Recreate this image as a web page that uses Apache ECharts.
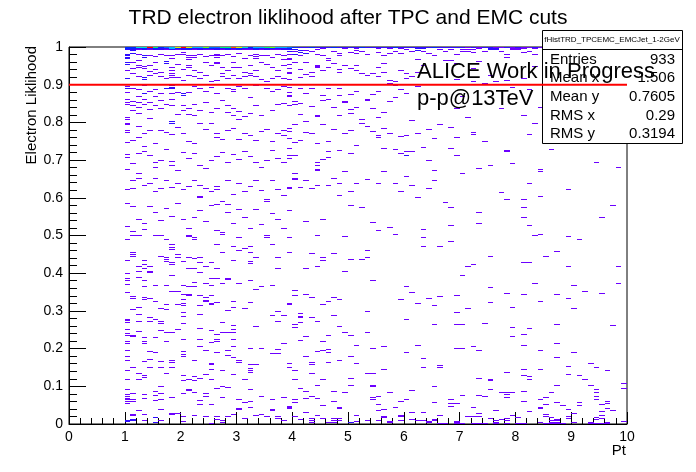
<!DOCTYPE html>
<html>
<head>
<meta charset="utf-8">
<title>TRD electron liklihood after TPC and EMC cuts</title>
<script src="https://cdn.jsdelivr.net/npm/echarts@6.0.0/dist/echarts.min.js"></script>
<style>
  html, body { margin: 0; padding: 0; background: #fff; }
  #chart { width: 696px; height: 472px; }
</style>
</head>
<body>
<div id="chart"></div>
<script>
// binning of the 2D histogram: 0.1 in Pt, 0.0025 in likelihood
var xBin = 0.1;
var yBin = 0.0025;
var xTicks = [0, 10, 1];
var yTicks = [0, 1, 0.1];
var cutValue = 0.9;

// counts of the top likelihood bin (iy 399), starting at ix 10
var topRow = [3,3,6,6,12,7,3,4,5,9,12,9,5,5,8,4,4,7,7,11,9,6,3,5,5,7,8,5,5,4,
  3,2,2,3,2,2,2,3,2,2,2,2,3,2,2,2,2,2,3,2,2,2,2,2,2,3,2,2,2,2,
  2,1,2,1,2,2,1,1,2,1,2,1,1,2,1];
// iy 398 and iy 397, starting at ix 10
var secondRow = [3,3,2,3,2,3,2,2,5,3,2,3,2,2,3,3,2,2,3,2,3,2,2,3,2,2,3,2,2,3];
var thirdRow = [2,2,1,2,1,2,2,1,2,1,2,2,1,2,1,1,2,1,2,1,2,1,1,2,1,2,1,1,2,1];

// [ix, iy, count] (count 1 when missing), Pt 1-4, likelihood 0.5-1
var upperLeft = [
  [10,392,2],[10,391,2],[10,388,2],[10,387,2],[10,383,2],[10,381,2],[10,375],[10,366,2],[10,358],[10,356,2],[10,351],[10,344],[10,341],[10,338],[10,325],[10,323],[10,318],[10,317],[10,311],[10,309],[10,298],[10,285],[10,282],[10,270],[10,248],[10,233],[10,209],
  [11,396,2],[11,393,2],[11,383],[11,377],[11,371],[11,356],[11,342],[11,337],[11,332],[11,300],[11,276],[11,258],[11,249],[11,230],[11,204],
  [12,392],[12,385],[12,380],[12,378],[12,368],[12,354],[12,347],[12,341],[12,335],[12,329],[12,315],[12,303],[12,287],[12,265],[12,260],[12,217],[12,200],
  [13,390,2],[13,388,2],[13,379],[13,377],[13,367,2],[13,365,2],[13,359],[13,350,2],[13,344],[13,339],[13,308],[13,294],[13,289],[13,253],[13,212],[13,206],
  [14,390],[14,380],[14,374],[14,369],[14,352],[14,341],[14,333],[14,324],[14,311],[14,284],[14,255],[14,230],
  [15,389],[15,383],[15,376],[15,371],[15,354],[15,347],[15,337],[15,297],[15,277],[15,272],[15,260],[15,246],[15,224],
  [16,392],[16,373],[16,368],[16,350],[16,343],[16,334],[16,311],[16,279],[16,249],[16,215],
  [17,390],[17,384,2],[17,382,2],[17,366],[17,356,2],[17,339],[17,309],[17,291],[17,258],[17,228],
  [18,391],[18,387],[18,378],[18,375],[18,371],[18,369],[18,367],[18,359,2],[18,357,2],[18,356,2],[18,350],[18,344],[18,337],[18,320,2],[18,318,2],[18,307],[18,278],[18,274],[18,250],[18,220],
  [19,392],[19,381],[19,367],[19,351],[19,328],[19,314],[19,269],[19,255],[19,234],
  [20,394],[20,392],[20,376],[20,364],[20,350,2],[20,348,2],[20,337],[20,332],[20,308],[20,288],[20,248],[20,216],
  [21,390],[21,388],[21,386],[21,380],[21,378],[21,369],[21,351],[21,334],[21,328],[21,299],[21,281],[21,251],[21,207],
  [22,391],[22,388],[22,375],[22,368],[22,358],[22,339],[22,327],[22,297],[22,287],[22,258],[22,219],
  [23,392],[23,373],[23,366],[23,356],[23,332],[23,318],[23,274],[23,253],[23,241],[23,240],[23,226],
  [24,389],[24,383],[24,369],[24,352],[24,341],[24,312],[24,271],[24,249],[24,214],
  [25,391],[25,380],[25,363],[25,357],[25,330],[25,318],[25,279],[25,246],[25,231],
  [26,392],[26,390],[26,388],[26,383],[26,382],[26,364],[26,350],[26,334],[26,308],[26,304],[26,283],[26,252],[26,248],[26,232],[26,205],
  [27,390],[27,378],[27,371],[27,368],[27,343],[27,301],[27,288],[27,236],[27,203],
  [28,392],[28,375],[28,366],[28,356],[28,337],[28,330],[28,311],[28,277],[28,258],[28,232],[28,224],
  [29,389],[29,383],[29,378],[29,369],[29,354],[29,352],[29,334],[29,327],[29,313],[29,286],[29,243],[29,212],
  [30,393],[30,378],[30,366],[30,358],[30,331],[30,323],[30,301],[30,280],[30,255],[30,227],
  [31,387],[31,372],[31,368],[31,356],[31,326],[31,308],[31,289],[31,246],[31,219],
  [32,391],[32,380],[32,371],[32,369],[32,346],[32,329],[32,306],[32,283],[32,252],[32,207],
  [33,392],[33,389],[33,387],[33,375],[33,368],[33,359],[33,337],[33,300],[33,277],[33,258],[33,227],
  [34,390],[34,383],[34,365],[34,327],[34,310],[34,272],[34,247],[34,211],
  [35,391],[35,381],[35,363],[35,356],[35,312],[35,279],[35,238],[35,236],[35,200],
  [36,388],[36,378],[36,366],[36,352],[36,332],[36,299],[36,290],[36,258],[36,223],
  [37,392],[37,375],[37,368],[37,354],[37,339],[37,308],[37,281],[37,248],[37,217],
  [38,390],[38,386],[38,380],[38,366],[38,358],[38,340],[38,311],[38,306],[38,277],[38,242],[38,207],
  [39,392],[39,387],[39,377],[39,372],[39,371],[39,365],[39,351],[39,347],[39,337],[39,310],[39,302],[39,284],[39,250],[39,226]
];

// Pt 3.9-7, likelihood 0.5-1
var upperMid = [
  [39,397,2],[39,395,2],[40,397,2],[40,395],[40,392,2],[41,396,2],[41,394,2],[41,391],[42,396],[42,393,2],[43,395],[44,397],[44,392],[45,398],[45,391],[46,387],[47,395],[48,393],[48,390],[49,398],[50,394],[51,398],[51,396],[51,393],[52,395],[53,392],[55,398],[55,394],[56,390],[57,398],[57,393],[58,395],[59,398],[59,393],[60,397],[61,395],[62,398,2],[62,396,2],[63,398,2],[63,395],[64,393],[65,390],[66,397],[67,395],[68,397],[69,392],
  [39,386],[39,381],[39,377],[40,383],[41,376],[41,367],[42,383],[42,370],[43,373],[43,368],[44,380],[44,379],[44,378],[45,375],[46,385],[46,378],[47,382],[48,376],[48,373],[49,380],[50,377],[51,380],[51,375],[52,371],[53,369],[54,371],[55,378],[55,368],[56,382],[56,373],[57,364],[57,361],[57,360],[58,363],[59,375],[60,371],[60,366],[61,368],[62,386],[62,372],[63,380],[67,385],[68,385],
  [39,357],[39,348],[39,337],[40,342],[40,338],[41,356],[41,340],[41,328],[42,350],[43,355],[43,336],[44,327],[44,326],[45,348],[45,343],[46,355],[46,344],[47,335],[48,356],[48,348],[48,327],[49,342],[49,341],[50,349],[50,333],[50,329],[51,352],[51,335],[52,323],[53,344],[53,343],[54,349],[54,334],[55,352],[55,325],[56,330],[57,342],[58,359],[58,346],[59,354],[60,350],[61,322],[62,358],
  [39,313],[39,302],[39,292],[39,281],[40,317],[40,298],[40,284],[41,300],[42,320],[42,309],[43,308],[44,297],[44,277],[44,274],[44,270],[44,269],[45,317],[45,280],[46,299],[46,289],[46,282],[47,312],[48,290],[49,308],[50,311],[50,287],[51,295],[52,318],[53,315],[54,310],[55,306],[55,303],[56,313],[56,292],[57,308],[58,291],[59,305],[59,287],[60,306],[60,289],[60,284,2],[61,289],[62,308],[63,293],[64,312],[64,279],[65,302],[65,269],[66,317],[68,314],[68,292],[69,304],[69,284],
  [39,250],[39,249],[40,265],[40,260],[40,259],[41,250],[42,258],[42,214],[43,249],[44,253],[45,216],[46,253],[47,260],[48,255],[48,242],[49,267],[50,246],[50,231],[51,255],[52,229],[53,259],[54,213],[55,255],[55,205],[56,267],[57,208],[58,255],[58,201],[59,246],[60,262],[61,253],[62,240],[63,206],[64,249],[65,258],[67,235],[68,229],[68,210]
];

// Pt 7-10, likelihood 0.5-1
var upperRight = [
  [70,397],[71,397],[70,395],[71,395],[72,397],[72,394],[73,398],[74,395],[75,398,2],[76,398,2],[75,397,2],[76,397,2],[77,395],[78,392],[78,388],[79,398],[80,398],[79,397],[80,397],[81,398],[81,394],[82,395],[83,398],[83,392],
  [69,382],[69,365],[72,377],[72,363],[73,384],[74,361],[75,369],[76,363],[78,364],[79,357],[81,366],[82,354],[83,379],[83,318],[81,327],[82,307],[84,335],[71,325],[69,334],[70,347],[72,309],[72,307],[74,299],[77,334],[78,289],[79,276],[75,274],[73,271],[70,265],[84,270],[84,267],[86,291],[94,277],[98,272],[89,248],[82,255],[77,245],[78,238],[81,238],[81,229],[84,241],[73,224],[73,212],[81,219],[82,210],[97,231],[95,219],[84,201],[78,290]
];

// Pt 1-4, likelihood 0-0.5
var lowerLeft = [
  [11,200],[12,200],[15,200],[16,200],[21,200],[21,199],[22,197],[27,201],[30,197],[35,200],[35,197],[39,197],
  [10,195],[17,195],[18,190],[18,187],[18,185],[22,195],[26,190],[29,188],[31,186],[32,188],[30,184],[36,190],[27,182],[32,181],[39,182],
  [11,182],[11,179],[11,177],[10,173],[13,173],[13,169],[12,167],[14,167],[16,177],[17,176],[17,174],[17,172],[18,171],[18,169],[19,179],[19,176],[20,172],[21,176],[22,175],[23,176],[23,171],[25,171],[24,167],[29,173],[33,176],[32,172],[32,170],[37,176],[37,164],[26,164],[21,164],[22,165],
  [13,164],[14,161],[14,160],[12,161],[10,159],[12,155],[13,152],[10,154],[10,152],[10,148],[18,157],[23,160],[25,154],[26,154],[28,154],[28,153],[27,149],[30,149],[32,152],[33,142],[34,145],[36,146],[15,146],[17,147],[17,146],[13,145],[20,146],[21,145],[22,145],[22,150],[24,149],[25,147],
  [10,139],[11,135],[11,133],[13,134],[13,132],[14,133],[15,129],[18,140],[19,140],[21,137],[21,136],[20,137],[23,136],[24,134],[25,136],[24,131],[24,130],[23,125],[25,127],[25,126],[26,128],[20,132],[20,127],[20,125],[17,126],[16,122],[19,126],[29,129],[31,122],[32,128],[39,126],[11,121],[12,123],[12,116],[14,113],[17,121],[20,118],[20,114],[23,116],[28,120],[29,123],[36,115],[37,119],[38,115],
  [10,110],[10,109],[10,107],[12,108],[14,108],[15,110],[16,108],[16,106],[20,106],[27,107],[29,104],[33,103],[37,108],[10,100],[10,96],[12,98],[16,99],[17,97],[18,97],[19,100],[23,101],[25,99],[27,97],[28,97],[26,95],[29,100],[29,97],[10,93],[11,93],[11,92],[13,91],[17,87],[20,89],[23,89],[26,89],[26,87],[25,86],[10,87],[10,85],[13,87],[13,85],[15,91],[29,89],[38,85],[23,82],[28,77],[29,82],
  [10,77],[10,71],[10,67],[14,76],[15,75],[13,66],[14,68],[16,66],[18,67],[18,65],[20,76],[20,73],[20,71],[22,67],[24,77],[26,75],[25,64],[25,63],[28,72],[29,70],[30,67],[30,65],[32,80],[32,63],[34,80],[36,74],[37,74],[37,79],[39,64],[39,59],
  [11,60],[11,59],[10,56],[12,53],[13,51],[13,49],[14,60],[16,60],[17,53],[18,60],[20,51],[20,46],[21,47],[22,50],[22,46],[23,48],[24,52],[25,57],[25,47],[27,56],[29,52],[31,47],[32,58],[32,56],[32,54],[33,63],
  [10,47],[12,47],[21,36],[21,35],[10,36],[10,31],[10,29],[10,27],[10,25],[10,23],[10,21],[11,32],[11,26],[11,23],[13,31],[13,27],[15,34],[15,30],[15,24],[16,39],[16,32],[16,26],[18,28],[20,32],[22,33],[24,32],[24,29],[23,24],[23,20],[25,20],[26,37],[27,39],[27,28],[28,38],[30,16],[30,15],[30,26],[31,22],[32,36],[32,23],[32,17],[34,29],[36,25],[36,15],[36,14],[38,28],[39,18],[39,17],
  [11,10],[11,9],[10,3,2],[10,2,2],[11,4,2],[11,3,2],[12,14],[13,10],[13,3],[15,6,2],[15,1,2],[16,15],[16,3],[18,11],[18,10],[19,11],[20,7],[20,2],[22,9],[24,7],[25,0],[26,7],[26,4],[28,8],[28,7],[27,3],[27,1],[29,10],[31,5],[33,9],[34,10],[35,8],[37,7],[37,5],[38,3]
];

// Pt 3.9-7, likelihood 0-0.5
var lowerMid = [
  [39,197],[44,200],[49,198],[58,201],[63,197],[63,188],[66,188],[68,193],
  [39,182],[43,180],[45,176],[45,173],[47,180],[50,174],[52,174],[53,184],[53,176],[42,164],[44,167],[49,161],
  [54,152],[60,145],[61,139],[40,141],[40,136],[42,137],[43,134],[39,127],[45,126],[46,129],[47,134],[48,132],[59,132],[62,127],[64,133],[65,125],[66,135],[69,136],[53,119],[41,117],[41,114],[41,113],[69,118],[47,115],[40,105],[40,102],[41,107],[43,112],[44,108],[48,103],[60,110],[65,105],[69,105],[49,97],[50,93],[53,97],[41,88],[42,92],[46,93],[45,87],[51,83],[54,80],[56,82],[62,83],[69,80],[60,75],[63,69],[42,71],[44,76],[45,77],[46,79],[46,75],[46,65],[48,67],[50,71],[51,64],[39,64],[39,59],[40,56],[43,65],[43,63],[43,53],[63,59],[66,62],[66,59],[53,53],[54,53],[56,57],
  [40,47],[45,47],[50,48],[54,40],[54,39],[50,40],[44,40],[41,37],[42,34],[47,34],[49,33],[57,33],[61,35],[65,39],[42,27],[43,29],[44,27],[54,28],[54,25],[55,29],[60,26],[40,25],[40,22],[47,23],[45,19],[48,17],[48,16],[55,20],[55,14],[56,15],[58,17],[59,23],[65,22],[68,25],[68,21],[69,21],[68,18],[39,18],[39,16],
  [42,12],[44,9],[51,9],[56,7],[56,6],[59,9],[59,8],[61,12],[63,12],[66,9],[40,7],[41,4],[43,5],[43,3],[45,5],[47,5],[48,5],[47,3],[48,3],[46,1],[47,1],[43,1],[50,1,2],[51,2],[53,3],[55,3],[57,2],[57,1],[59,3],[61,4],[62,3],[63,3],[64,2],[64,1],[65,4],[65,3],[66,0],[67,0],[69,2],[69,1]
];

// Pt 7-10, likelihood 0-0.5
var lowerRight = [
  [83,200],[89,199],[91,195],[87,183],[75,177],[85,177],[71,167],[72,169],[81,171],[82,171],[89,167],[98,167],[70,157],[83,149],[90,146],[98,149],[75,144],[69,136],[78,138],[81,137],[87,137],[92,140],[95,138],[89,133],[84,130],[75,128],[71,122],[79,123],[90,122],[69,118],
  [70,105],[74,106],[87,105],[97,104],[79,102],[82,101],[81,94],[79,92],[81,83],[87,85],[70,80],[72,82],[73,77],[84,78],[90,75],[87,70],[93,64],[94,59],[96,56],[78,54],[81,57],[84,57],[89,61],
  [73,48],[75,47],[75,46],[81,51],[82,50],[82,47],[89,52],[91,51],[92,47],[99,42],[99,37],[87,40],[93,40],[94,36],[94,33],[75,36],[77,33],[78,33],[78,31],[78,28],[73,30],[74,29],[79,33],[81,34],[86,33],[70,30],[84,25],[85,28],[94,29],[94,25],
  [69,21],[72,17],[76,14],[81,23],[82,13],[84,17],[84,16],[85,20],[87,22],[88,19],[89,15],[91,22],[91,19],[95,20],[95,13],[96,23],[96,21],[96,16],[97,14],
  [73,11],[73,8],[71,7],[72,7],[75,5],[76,3],[77,4],[78,5],[78,3],[79,9],[80,6],[85,10],[85,8],[86,6],[86,3],[87,4],[87,3],[89,7],[89,5],[90,11],[90,1],[94,6],[94,4],[95,9],[95,5],[96,1],[96,0],[99,2],
  [69,1],[69,0],[70,0],[72,0],[73,0],[74,0],[76,1],[76,0],[78,0],[80,0],[81,0],[84,1],[85,0],[86,1],[86,0],[87,1],[87,0],[88,0],[93,1],[93,0],[94,0],[95,0]
];

// stats box
var statsTitle = 'fHistTRD_TPCEMC_EMCJet_1-2GeV';
var statsNames = ['Entries', 'Mean x', 'Mean y', 'RMS x', 'RMS y'];
var statsValues = ['933', '1.506', '0.7605', '0.29', '0.3194'];

// ROOT style palette, from 1 entry up to the maximum
var palette = ['#6c00ff', '#2e0cff', '#0028ff', '#0070ff', '#00b4ff', '#00e0d8',
  '#00f080', '#60ff20', '#d8f000', '#ffb000', '#ff5800', '#ff0000'];

var font = 'Liberation Sans, Arial, Helvetica, sans-serif';

var cells = [];
function addRow(row, iy) {
  row.forEach(function (n, k) {
    if (n > 0) cells.push([(10 + k) * xBin, iy * yBin, n]);
  });
}
function addCells(list) {
  list.forEach(function (c) {
    cells.push([c[0] * xBin, c[1] * yBin, c[2] || 1]);
  });
}
addRow(topRow, 399);
addRow(secondRow, 398);
addRow(thirdRow, 397);
[upperLeft, upperMid, upperRight, lowerLeft, lowerMid, lowerRight].forEach(addCells);

function renderCell(params, api) {
  var x = api.value(0), y = api.value(1), n = api.value(2);
  var a = api.coord([x, y + yBin]);
  var b = api.coord([x + xBin, y]);
  var x0 = Math.round(a[0]), x1 = Math.round(b[0]);
  var y0 = Math.round(a[1]), y1 = Math.round(b[1]);
  return {
    type: 'rect',
    shape: { x: x0, y: y0, width: Math.max(1, x1 - x0), height: Math.max(1, y1 - y0) },
    style: { fill: palette[Math.min(n, palette.length) - 1] }
  };
}

var statsGraphics = [
  { type: 'rect', z: 10, shape: { x: 542.5, y: 30.5, width: 140, height: 113 },
    style: { fill: '#fff', stroke: '#000', lineWidth: 1 } },
  { type: 'line', z: 10, shape: { x1: 542.5, y1: 49.5, x2: 682.5, y2: 49.5 },
    style: { stroke: '#000', lineWidth: 1 } },
  { type: 'text', z: 10, x: 612, y: 40,
    style: { text: statsTitle, font: '8px ' + font, fill: '#000', align: 'center', verticalAlign: 'middle' } }
];
statsNames.forEach(function (name, i) {
  var y = 59.5 + i * 18.7;
  statsGraphics.push({ type: 'text', z: 10, x: 550, y: y,
    style: { text: name, font: '15px ' + font, fill: '#000', align: 'left', verticalAlign: 'middle' } });
  statsGraphics.push({ type: 'text', z: 10, x: 675, y: y,
    style: { text: statsValues[i], font: '15px ' + font, fill: '#000', align: 'right', verticalAlign: 'middle' } });
});

var chart = echarts.init(document.getElementById('chart'), null, { renderer: 'canvas' });
chart.setOption({
  animation: false,
  backgroundColor: '#fff',
  title: {
    text: 'TRD electron liklihood after TPC and EMC cuts',
    left: 'center', top: 3,
    textStyle: { fontFamily: font, fontSize: 21, fontWeight: 'normal', color: '#000' }
  },
  grid: {
    left: 69, right: 69, top: 47, bottom: 48,
    show: true, borderColor: '#000', borderWidth: 1, backgroundColor: 'transparent'
  },
  xAxis: {
    type: 'value', min: xTicks[0], max: xTicks[1], interval: xTicks[2],
    axisLine: { lineStyle: { color: '#000', width: 1 } },
    axisTick: { inside: true, length: 12, lineStyle: { color: '#000' } },
    minorTick: { show: true, splitNumber: 5, length: 6, lineStyle: { color: '#000' } },
    splitLine: { show: false },
    axisLabel: { color: '#000', fontFamily: font, fontSize: 14, margin: 6 }
  },
  yAxis: {
    type: 'value', min: yTicks[0], max: yTicks[1], interval: yTicks[2],
    axisLine: { lineStyle: { color: '#000', width: 1 } },
    axisTick: { inside: true, length: 17, lineStyle: { color: '#000' } },
    minorTick: { show: true, splitNumber: 5, length: 8, lineStyle: { color: '#000' } },
    splitLine: { show: false },
    axisLabel: { color: '#000', fontFamily: font, fontSize: 14, margin: 6 }
  },
  series: [
    {
      type: 'custom',
      renderItem: renderCell,
      data: cells,
      encode: { x: 0, y: 1 },
      z: 2,
      silent: true
    },
    {
      type: 'line',
      data: [[xTicks[0], cutValue], [xTicks[1], cutValue]],
      symbol: 'none',
      lineStyle: { color: '#ff0000', width: 2 },
      z: 20,
      silent: true
    }
  ],
  graphic: statsGraphics.concat([
    { type: 'text', z: 30, x: 417, y: 72,
      style: { text: 'ALICE Work in Progress', font: '22px ' + font, fill: '#000', align: 'left', verticalAlign: 'middle' } },
    { type: 'text', z: 30, x: 417, y: 99,
      style: { text: 'p-p@13TeV', font: '22px ' + font, fill: '#000', align: 'left', verticalAlign: 'middle' } },
    { type: 'text', z: 30, x: 626, y: 451,
      style: { text: 'Pt', font: '15px ' + font, fill: '#000', align: 'right', verticalAlign: 'middle' } },
    { type: 'text', z: 30, x: 32, y: 46, rotation: Math.PI / 2,
      style: { text: 'Electron Liklihood', font: '15px ' + font, fill: '#000', align: 'right', verticalAlign: 'middle' } }
  ])
});
</script>
</body>
</html>
